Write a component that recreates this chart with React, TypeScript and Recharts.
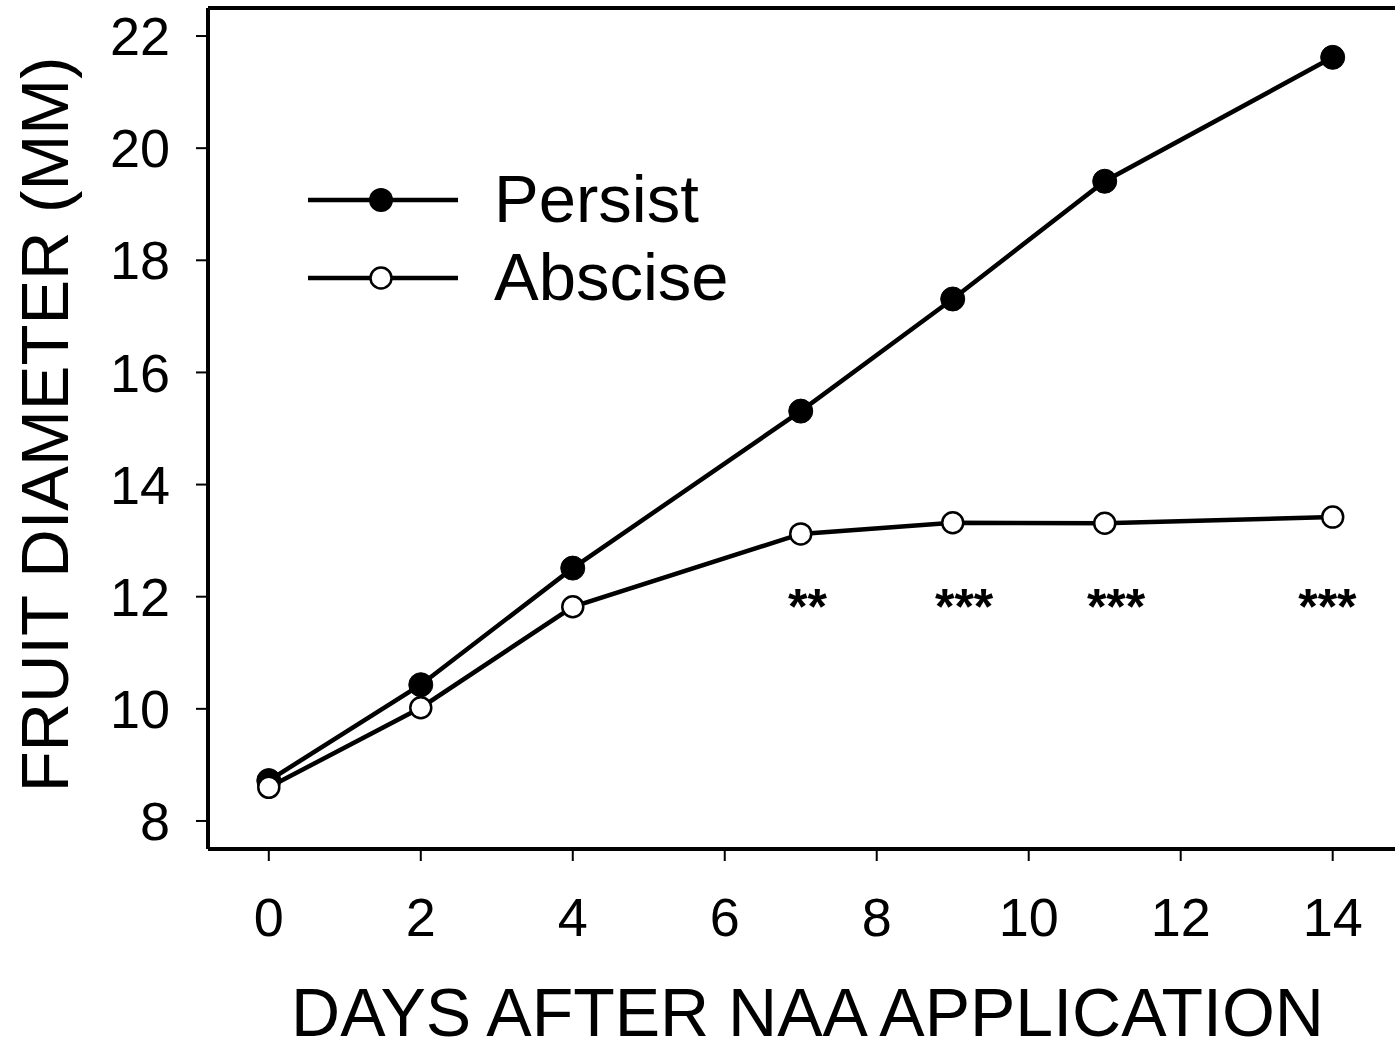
import React from "react";
import {
  LineChart,
  Line,
  XAxis,
  YAxis,
  ReferenceLine,
  ReferenceDot,
  Legend,
  Label,
} from "recharts";

const days = [0, 2, 4, 7, 9, 11, 14];
const persist = [8.72, 10.43, 12.51, 15.31, 17.31, 19.41, 21.62];
const abscise = [8.6, 10.02, 11.82, 13.12, 13.32, 13.31, 13.42];

const xTicks = [0, 2, 4, 6, 8, 10, 12, 14];
const yTicks = [8, 10, 12, 14, 16, 18, 20, 22];

// significance marks, placed where they sit in the figure
const starDays = [7.09, 9.15, 11.15, 13.93];
const starText = ["**", "***", "***", "***"];
const starLevel = 11.83;

const FONT = '"Liberation Sans", Arial, Helvetica, sans-serif';

const data = days.map((d, i) => ({
  day: d,
  persist: persist[i],
  abscise: abscise[i],
}));

function LegendBox() {
  const rows = [
    { name: "Persist", filled: true },
    { name: "Abscise", filled: false },
  ];
  return (
    <svg width={460} height={170} style={{ display: "block", overflow: "visible" }}>
      {rows.map((r, i) => {
        const cy = 40 + i * 78;
        return (
          <g key={r.name}>
            <line x1={8} x2={158} y1={cy} y2={cy} stroke="#000" strokeWidth={4.5} />
            {r.filled ? (
              <circle cx={81} cy={cy} r={12} fill="#000" />
            ) : (
              <circle cx={81} cy={cy} r={10.5} fill="#fff" stroke="#000" strokeWidth={2.5} />
            )}
            <text x={194} y={cy + 22} fontSize={67} fontFamily={FONT} fill="#000">
              {r.name}
            </text>
          </g>
        );
      })}
    </svg>
  );
}

export default function App() {
  return (
    <div style={{ position: "absolute", left: 0, top: 0, background: "#fff" }}>
      <LineChart
        width={1395}
        height={1042}
        data={data}
        margin={{ top: 8, right: 0, bottom: 0, left: 0 }}
        style={{ fontFamily: FONT }}
      >
        <XAxis
          dataKey="day"
          type="number"
          domain={[-0.8, 14.82]}
          ticks={xTicks}
          allowDataOverflow
          height={193}
          axisLine={{ stroke: "#000", strokeWidth: 4 }}
          tickLine={{ stroke: "#000", strokeWidth: 2 }}
          tickSize={12}
          tickMargin={37}
          tick={{ fill: "#000", fontSize: 54, fontFamily: FONT }}
        >
          <Label
            content={({ viewBox }: any) => (
              <text
                x={viewBox.x + viewBox.width / 2 + 6}
                y={1036}
                textAnchor="middle"
                fontSize={68}
                fontFamily={FONT}
                fill="#000"
              >
                DAYS AFTER NAA APPLICATION
              </text>
            )}
          />
        </XAxis>
        <YAxis
          type="number"
          domain={[7.5, 22.5]}
          ticks={yTicks}
          allowDataOverflow
          width={208}
          axisLine={{ stroke: "#000", strokeWidth: 4 }}
          tickLine={{ stroke: "#000", strokeWidth: 2 }}
          tickSize={12}
          tickMargin={26}
          tick={{ fill: "#000", fontSize: 54, fontFamily: FONT }}
        >
          <Label
            content={({ viewBox }: any) => {
              const cx = 68;
              const cy = viewBox.y + viewBox.height / 2 - 4;
              return (
                <text
                  x={cx}
                  y={cy}
                  transform={`rotate(-90 ${cx} ${cy})`}
                  textAnchor="middle"
                  fontSize={67}
                  fontFamily={FONT}
                  fill="#000"
                >
                  FRUIT DIAMETER (MM)
                </text>
              );
            }}
          />
        </YAxis>
        <ReferenceLine y={22.5} stroke="#000" strokeWidth={4} />
        <Legend
          layout="horizontal"
          verticalAlign="middle"
          align="center"
          content={() => <LegendBox />}
          wrapperStyle={{ position: "absolute", left: 300, top: 160, width: 460, height: 170 }}
        />
        <Line
          dataKey="persist"
          name="Persist"
          stroke="#000"
          strokeWidth={4.5}
          dot={{ r: 12, fill: "#000", stroke: "#000", strokeWidth: 1 }}
          isAnimationActive={false}
        />
        <Line
          dataKey="abscise"
          name="Abscise"
          stroke="#000"
          strokeWidth={4.5}
          dot={{ r: 10.5, fill: "#fff", stroke: "#000", strokeWidth: 2.5 }}
          isAnimationActive={false}
        />
        {starDays.map((d, i) => (
          <ReferenceDot
            key={i}
            x={d}
            y={starLevel}
            r={0}
            fill="none"
            stroke="none"
            label={{
              value: starText[i],
              position: "center",
              fontSize: 50,
              fontWeight: "bold",
              fontFamily: FONT,
              fill: "#000",
            }}
          />
        ))}
      </LineChart>
    </div>
  );
}
